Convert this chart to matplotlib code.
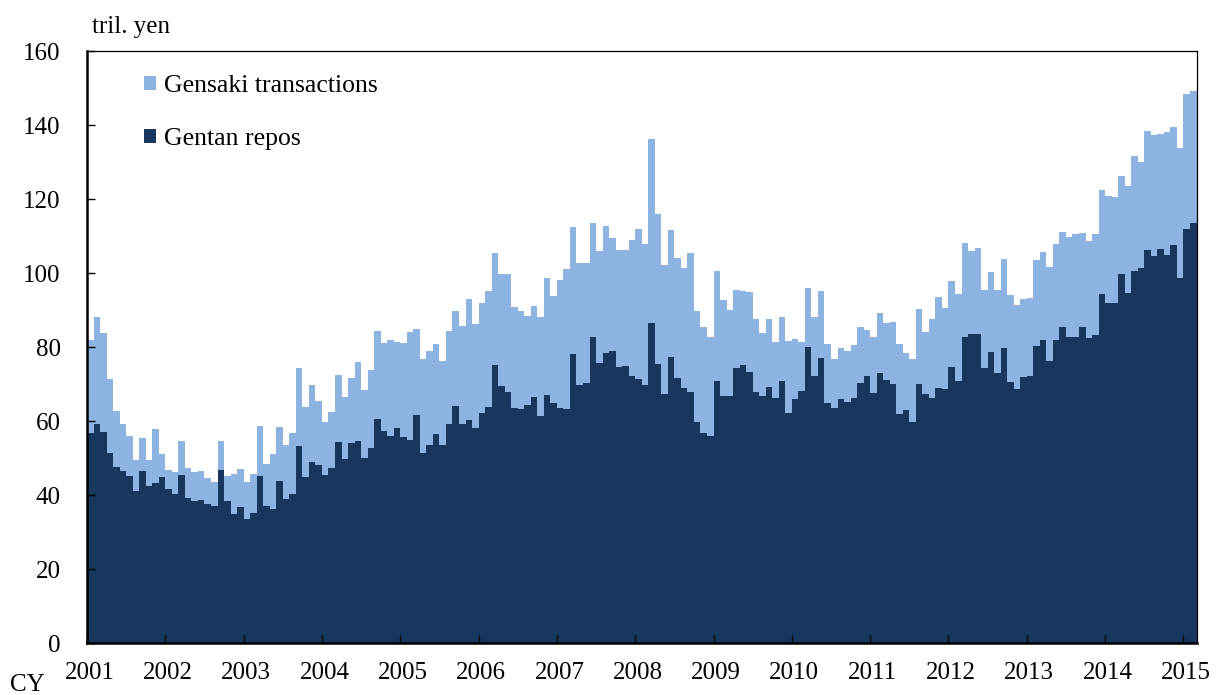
import matplotlib
matplotlib.use("Agg")
import matplotlib.pyplot as plt
import matplotlib.transforms as mtransforms
from matplotlib.patches import Patch

# Monthly data, Jan 2001 - Feb 2015 (tril. yen)
gentan = [
    56.8, 59.2, 57.0, 51.3, 47.7, 46.4, 45.1, 41.0, 46.5, 42.5, 43.2, 45.0,   # 2001
    41.5, 40.4, 45.4, 39.2, 38.4, 38.6, 37.6, 36.9, 46.8, 38.4, 35.0, 36.8,   # 2002
    33.4, 35.1, 45.1, 36.9, 36.2, 43.9, 39.0, 40.3, 53.3, 45.0, 48.8, 48.1,   # 2003
    45.5, 47.3, 54.3, 49.7, 54.1, 54.6, 50.0, 52.6, 60.5, 57.2, 55.9, 58.1,   # 2004
    55.7, 54.9, 61.6, 51.4, 53.4, 56.5, 53.6, 59.2, 64.1, 59.2, 60.3, 58.1,   # 2005
    62.2, 63.9, 75.1, 69.5, 67.9, 63.4, 63.3, 64.3, 66.5, 61.4, 67.1, 64.9,   # 2006
    63.4, 63.2, 78.2, 69.8, 70.3, 82.6, 75.7, 78.4, 78.8, 74.7, 74.9, 72.2,   # 2007
    71.4, 69.8, 86.5, 75.4, 67.2, 77.2, 71.7, 69.0, 67.8, 59.8, 56.7, 55.9,   # 2008
    70.8, 66.8, 66.7, 74.2, 75.1, 73.2, 67.8, 66.7, 69.2, 66.2, 70.7, 62.2,   # 2009
    65.9, 68.1, 79.9, 72.2, 77.0, 64.9, 63.4, 65.9, 65.2, 66.1, 70.2, 72.2,   # 2010
    67.5, 73.0, 71.1, 70.0, 61.9, 63.0, 59.7, 70.0, 67.3, 66.3, 69.0, 68.6,   # 2011
    74.5, 70.7, 82.7, 83.5, 83.4, 74.3, 78.6, 73.1, 79.6, 70.6, 68.6, 72.0,   # 2012
    72.2, 80.2, 81.8, 76.2, 81.9, 85.4, 82.8, 82.8, 85.4, 82.3, 83.3, 94.2,   # 2013
    91.9, 91.9, 99.7, 94.7, 100.5, 101.4, 106.2, 104.7, 106.4, 104.9, 107.6, 98.6,  # 2014
    111.9, 113.5,                                                             # 2015
]
gensaki = [
    25.1, 28.8, 26.9, 20.1, 14.9, 12.8, 10.9, 8.5, 8.9, 7.0, 14.6, 6.1,
    5.3, 5.8, 9.1, 8.0, 7.9, 7.8, 6.9, 6.7, 7.8, 6.8, 10.7, 10.3,
    10.1, 10.6, 13.5, 11.6, 14.9, 14.5, 14.5, 16.4, 21.1, 18.7, 21.0, 17.2,
    14.3, 15.1, 18.0, 16.8, 17.4, 21.4, 18.4, 21.1, 23.7, 24.0, 25.9, 23.3,
    25.3, 29.1, 23.2, 25.4, 25.5, 24.3, 22.6, 25.1, 25.5, 26.5, 32.7, 28.2,
    29.7, 31.2, 30.3, 30.2, 31.8, 27.3, 26.4, 24.1, 24.5, 26.6, 31.5, 29.0,
    34.7, 37.9, 34.2, 32.9, 32.3, 30.8, 30.3, 34.2, 30.6, 31.4, 31.3, 36.8,
    40.5, 38.1, 49.6, 40.5, 35.0, 34.4, 32.3, 32.4, 37.5, 29.9, 28.6, 26.8,
    29.7, 25.9, 23.4, 21.2, 20.0, 21.7, 19.9, 17.1, 18.5, 15.2, 17.3, 19.4,
    16.3, 13.3, 16.0, 15.9, 18.2, 15.9, 13.3, 13.8, 13.8, 14.5, 15.1, 12.4,
    15.1, 16.2, 15.3, 16.8, 18.9, 15.4, 17.0, 20.2, 16.7, 21.3, 24.4, 21.9,
    23.3, 23.5, 25.5, 22.4, 23.4, 21.0, 21.7, 22.4, 24.3, 23.5, 22.8, 20.9,
    21.0, 23.2, 23.8, 25.5, 25.9, 25.6, 27.0, 27.7, 25.4, 26.4, 27.3, 28.1,
    29.0, 28.7, 26.5, 28.9, 31.2, 28.7, 32.1, 32.6, 31.1, 33.2, 31.9, 35.1,
    36.6, 35.6,
]
years = [str(y) for y in range(2001, 2016)]
yticks = [0, 20, 40, 60, 80, 100, 120, 140, 160]

dark = "#17375E"
light = "#8DB3E2"

plt.rcParams['font.family'] = ['Liberation Serif', 'DejaVu Serif']

W, H = 1219, 695
fig = plt.figure(figsize=(W / 100, H / 100), dpi=100)
ax = fig.add_axes([87 / W, 52 / H, (1196.5 - 87) / W, (643 - 51) / H])

x = list(range(len(gentan)))
ax.bar(x, gentan, width=1.0, align='edge', color=dark, linewidth=0, label='Gentan repos')
ax.bar(x, gensaki, width=1.0, align='edge', bottom=gentan, color=light, linewidth=0,
       label='Gensaki transactions')

ax.set_xlim(0, len(gentan))
ax.set_ylim(0, 160)
ax.set_yticks(yticks)
ax.set_yticklabels([str(v) for v in yticks])
ax.set_xticks([12 * i for i in range(len(years))])
ax.set_xticklabels(years)

ax.tick_params(axis='both', direction='in', length=6, width=1, labelsize=18, color='black')
ax.tick_params(axis='y', pad=19)
ax.tick_params(axis='x', pad=14)
offset = mtransforms.ScaledTranslation(2.5 / 100, 0, fig.dpi_scale_trans)
for lab in ax.get_xticklabels():
    lab.set_transform(lab.get_transform() + offset)

ax.spines['left'].set_linewidth(1.8)
ax.spines['bottom'].set_linewidth(1.8)
ax.spines['top'].set_linewidth(0.9)
ax.spines['right'].set_linewidth(0.9)

handles = [Patch(facecolor=light, edgecolor='none'), Patch(facecolor=dark, edgecolor='none')]
leg = ax.legend(handles, ['Gensaki transactions', 'Gentan repos'],
                loc='upper left', bbox_to_anchor=((144 - 87) / (1196.5 - 87), (643 - 75) / (643 - 51)),
                frameon=False, fontsize=18.5, handlelength=0.48, handleheight=0.48,
                handletextpad=0.3, labelspacing=1.2, borderpad=0, borderaxespad=0)

fig.text(92 / W, 1 - 27 / H, 'tril. yen', fontsize=18, ha='left', va='center')
fig.text(10 / W, 1 - 685 / H, 'CY', fontsize=18, ha='left', va='center')

fig.savefig('out.png', dpi=100)
